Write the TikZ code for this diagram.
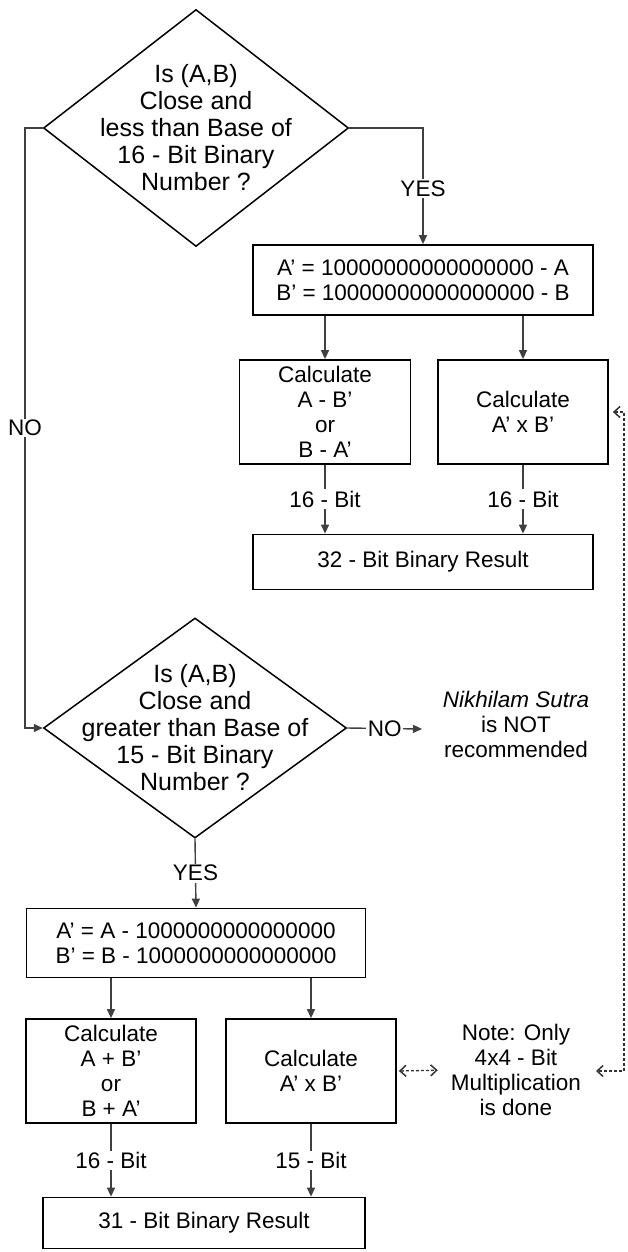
\documentclass[tikz,border=0pt]{standalone}
\usepackage{fontspec}
\setmainfont{Liberation Sans}
\usetikzlibrary{shapes.geometric,arrows.meta}
\begin{document}
\begin{tikzpicture}[x=1pt,y=-1pt,
  box/.style={draw=black, line width=1.8pt, inner sep=0pt, align=center, font=\fontsize{22.5}{25}\selectfont},
  dmd/.style={diamond, draw=black, line width=1.5pt, inner sep=0pt},
  dtext/.style={align=center, inner sep=0pt, font=\fontsize{25}{27}\selectfont},
  plain/.style={align=center, inner sep=0pt, font=\fontsize{22.5}{25}\selectfont},
  conn/.style={draw=black!75, line width=1.4pt, -{Triangle[length=9pt,width=8pt]}},
  lbl/.style={fill=white, inner sep=1.5pt, font=\fontsize{22.5}{25}\selectfont},
  dashconn/.style={draw=black!80, line width=1.3pt, dash pattern=on 3pt off 2pt,
    {Straight Barb[length=6pt,width=11pt,line width=1.5pt]}-{Straight Barb[length=6pt,width=11pt,line width=1.5pt]}}]
\fill[white] (0,0) rectangle (627,1252);
\useasboundingbox (0,0) rectangle (627,1252);

% first decision
\node[dmd, minimum width=305, minimum height=237] (d1) at (196,128) {};
\node[dtext] (d1t) at (d1) {Is (A,B)\\Close and\\less than Base of\\16 - Bit Binary\\Number ?};

\node[box, minimum width=340, minimum height=70] (b1) at (423,280) {A' = 10000000000000000 - A\\B' = 10000000000000000 - B};
\node[box, minimum width=171, minimum height=104] (b2) at (325,412) {Calculate\\A - B'\\or\\B - A'};
\node[box, minimum width=170, minimum height=104] (b3) at (523,412) {Calculate\\A' x B'};
\node[box, minimum width=340, minimum height=55] (b4) at (423,562) {32 - Bit Binary Result};

% second decision
\node[dmd, minimum width=303, minimum height=220] (d2) at (195,728) {};
\node[dtext] (d2t) at (d2) {Is (A,B)\\Close and\\greater than Base of\\15 - Bit Binary\\Number ?};
\node[plain] (nik) at (516,724) {\textit{Nikhilam Sutra}\\is NOT\\recommended};
\coordinate (nikin) at (422,729);

\node[box, minimum width=339, minimum height=69] (b5) at (196,943) {A' = A - 1000000000000000\\B' = B - 1000000000000000};
\node[box, minimum width=170, minimum height=104] (b6) at (111,1071) {Calculate\\A + B'\\or\\B + A'};
\node[box, minimum width=170, minimum height=104] (b7) at (311,1071) {Calculate\\A' x B'};
\node[box, minimum width=322, minimum height=51] (b8) at (204,1223) {31 - Bit Binary Result};
\node[plain] (note) at (516,1070) {Note: Only\\4x4 - Bit\\Multiplication\\is done};

% connectors
\draw[conn] (d1.east) -| node[lbl, pos=0.76] (yes1) {YES} (b1.north);
\coordinate (nl) at (25,128);
\draw[conn] (d1.west) -- (nl) |- node[lbl, pos=0.25] (no1) {NO} (d2.west);

\draw[conn] (b1.south -| b2.north) -- (b2.north);
\draw[conn] (b1.south -| b3.north) -- (b3.north);
\draw[conn] (b2.south) -- node[lbl] (l1) {16 - Bit} (b2.south |- b4.north);
\draw[conn] (b3.south) -- node[lbl] (l2) {16 - Bit} (b3.south |- b4.north);

\draw[conn] (d2.east) -- node[lbl] (no2) {NO} (nikin);
\draw[conn] (d2.south) -- node[lbl] (yes2) {YES} (b5.north);

\draw[conn] (b5.south -| b6.north) -- (b6.north);
\draw[conn] (b5.south -| b7.north) -- (b7.north);
\draw[conn] (b6.south) -- node[lbl] (l3) {16 - Bit} (b6.south |- b8.north);
\draw[conn] (b7.south) -- node[lbl] (l4) {15 - Bit} (b7.south |- b8.north);

% dashed links
\draw[dashconn, shorten <=2pt, shorten >=13pt] (b7.east) -- (note.west);
\coordinate (rtop) at (624,412);
\coordinate (rbot) at (624,1071);
\coordinate (nr) at (596,1071);
\draw[dashconn] ([xshift=4pt]b3.east) -- (rtop) -- (rbot) -- (nr);
\end{tikzpicture}
\end{document}
